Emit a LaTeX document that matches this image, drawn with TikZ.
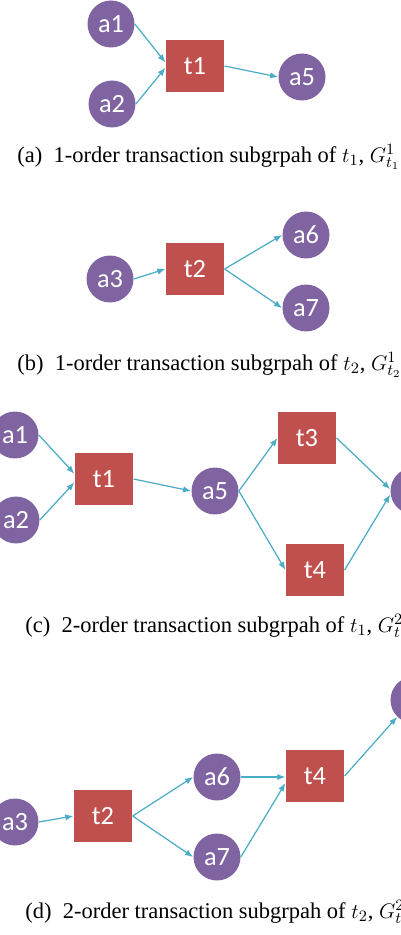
\documentclass[tikz,border=0pt]{standalone}
\usepackage{fontspec}
\setmainfont{Liberation Serif}
\newfontfamily\nodefont{Carlito}
\usepackage{tikz}
\usetikzlibrary{arrows.meta}
\definecolor{acctpurple}{HTML}{8064A2}
\definecolor{txred}{HTML}{C0504D}
\definecolor{flowblue}{HTML}{4BACC6}

\begin{document}
\begin{tikzpicture}[
    x=0.02cm,y=-0.02cm,
    >={Latex[length=4.6pt,width=3.6pt]},
    acct/.style={circle,fill=acctpurple,text=white,inner sep=0pt,
        minimum size=0.94cm,font=\nodefont\fontsize{15}{17}\selectfont},
    tx/.style={rectangle,fill=txred,text=white,inner sep=0pt,
        minimum width=1.17cm,minimum height=1.04cm,
        font=\nodefont\fontsize{15}{17}\selectfont},
    flow/.style={draw=flowblue,line width=0.7pt,->},
    sub/.style={anchor=west,inner sep=0pt,font=\fontsize{12.8}{15}\selectfont}]
\useasboundingbox (0,0) rectangle (401,935);
\clip (0,0) rectangle (401,935);
% (a)
\node[acct] (a1) at (111,24) {a1};
\node[acct] (a2) at (112,104) {a2};
\node[tx] (t1) at (195,66) {t1};
\node[acct] (a5) at (302,77) {a5};
\draw[flow] (a1.east) -- ([yshift=2pt]t1.west);
\draw[flow] (a2.east) -- ([yshift=-1pt]t1.west);
\draw[flow] (t1.east) -- (a5.west);
\node[sub] (capa) at (17,157) {(a)~~1-order transaction subgrpah of $t_1$, $G^1_{t_1}$};
% (b)
\node[acct] (a3) at (110,279) {a3};
\node[tx] (t2) at (195,269) {t2};
\node[acct] (a6) at (306,235) {a6};
\node[acct] (a7) at (306,308) {a7};
\draw[flow] (a3.east) -- (t2.west);
\draw[flow] (t2.east) -- (a6.west);
\draw[flow] (t2.east) -- (a7.west);
\node[sub] (capb) at (17,365) {(b)~~1-order transaction subgrpah of $t_2$, $G^1_{t_2}$};
% (c)
\node[acct] (c1) at (15,435) {a1};
\node[acct] (c2) at (16,520) {a2};
\node[tx] (ct1) at (104,479) {t1};
\node[acct] (c5) at (215,491) {a5};
\node[tx] (ct3) at (307,438) {t3};
\node[tx] (ct4) at (315,570) {t4};
\node[acct] (c8) at (414,491) {};
\draw[flow] (c1.east) -- ([yshift=3pt]ct1.west);
\draw[flow] (c2.east) -- ([yshift=-2pt]ct1.west);
\draw[flow] (ct1.east) -- (c5.west);
\draw[flow] (c5.east) -- (ct3.west);
\draw[flow] (c5.east) -- (ct4.west);
\draw[flow] (ct3.east) -- ([yshift=1pt]c8.west);
\draw[flow] (ct4.east) -- ([yshift=-2pt]c8.west);
\node[sub] (capc) at (25,627) {(c)~~2-order transaction subgrpah of $t_1$, $G^2_{t_1}$};
% (d)
\node[acct] (d3) at (15,822) {a3};
\node[tx] (dt2) at (103,816) {t2};
\node[acct] (d6) at (217,777) {a6};
\node[acct] (d7) at (217,857) {a7};
\node[tx] (dt4) at (315,776) {t4};
\node[acct] (d8) at (414,700) {};
\draw[flow] (d3.east) -- (dt2.west);
\draw[flow] (dt2.east) -- (d6.west);
\draw[flow] (dt2.east) -- (d7.west);
\draw[flow] (d6.east) -- (d6.east -| dt4.west);
\draw[flow] (d7.east) -- ([yshift=-4pt]dt4.west);
\draw[flow] (dt4.east) -- (d8.south west);
\node[sub] (capd) at (25,913) {(d)~~2-order transaction subgrpah of $t_2$, $G^2_{t_2}$};
\end{tikzpicture}
\end{document}
